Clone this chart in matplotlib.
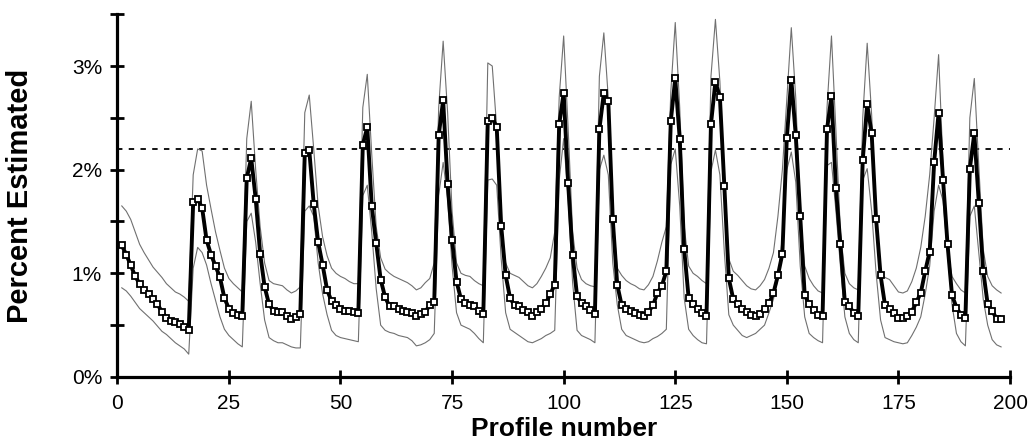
import numpy as np
import matplotlib
matplotlib.use("Agg")
from matplotlib import pyplot as plt

# central estimate (%), one value per profile
estimated = [
    1.27, 1.18, 1.08, 0.97, 0.90, 0.84, 0.80, 0.75, 0.70, 0.63, 0.57, 0.54, 0.53, 0.51, 0.48, 0.45,
    1.69, 1.72, 1.63, 1.32, 1.18, 1.07, 0.96, 0.76, 0.66, 0.62, 0.60, 0.59,
    1.92, 2.11, 1.72, 1.19, 0.87, 0.70, 0.64, 0.63, 0.63, 0.585, 0.56, 0.58, 0.61,
    2.16, 2.19, 1.67, 1.30, 1.08, 0.84, 0.73, 0.69, 0.66, 0.64, 0.64, 0.63, 0.62,
    2.24, 2.41, 1.65, 1.29, 0.94, 0.77, 0.68, 0.68, 0.66, 0.64, 0.63, 0.62, 0.585, 0.61, 0.63, 0.69, 0.72,
    2.33, 2.67, 1.86, 1.32, 0.92, 0.75, 0.71, 0.69, 0.68, 0.64, 0.61,
    2.47, 2.50, 2.41, 1.46, 0.98, 0.76, 0.69, 0.68, 0.65, 0.63, 0.59, 0.63, 0.66, 0.71, 0.80, 0.89,
    2.44, 2.74, 1.87, 1.18, 0.78, 0.71, 0.68, 0.65, 0.61,
    2.39, 2.74, 2.66, 1.52, 0.89, 0.69, 0.66, 0.64, 0.62, 0.60, 0.59, 0.63, 0.69, 0.81, 0.88, 1.02,
    2.47, 2.88, 2.30, 1.23, 0.76, 0.70, 0.66, 0.62, 0.59,
    2.44, 2.85, 2.70, 1.84, 0.95, 0.75, 0.70, 0.66, 0.63, 0.60, 0.59, 0.61, 0.66, 0.71, 0.81, 0.98, 1.19,
    2.31, 2.87, 2.33, 1.55, 0.79, 0.70, 0.65, 0.60, 0.585,
    2.39, 2.71, 1.82, 1.28, 0.72, 0.68, 0.62, 0.585,
    2.09, 2.63, 2.35, 1.52, 0.98, 0.69, 0.66, 0.62, 0.57, 0.57, 0.585, 0.63, 0.72, 0.81, 1.02, 1.21,
    2.07, 2.55, 1.90, 1.28, 0.79, 0.67, 0.60, 0.57,
    2.01, 2.35, 1.68, 1.02, 0.70, 0.64, 0.56, 0.56,
]

upper = [
    1.65, 1.60, 1.52, 1.40, 1.28, 1.20, 1.13, 1.06, 1.01, 0.96, 0.90, 0.86, 0.82, 0.80, 0.77, 0.73,
    1.95, 2.20, 2.18, 1.85, 1.62, 1.40, 1.22, 1.05, 0.95, 0.90, 0.86, 0.82,
    2.30, 2.66, 2.00, 1.45, 1.10, 0.93, 0.90, 0.89, 0.88, 0.84, 0.81, 0.83, 0.87,
    2.55, 2.72, 2.20, 1.65, 1.35, 1.17, 1.05, 1.00, 0.97, 0.95, 0.92, 0.90, 0.90,
    2.60, 2.92, 2.15, 1.45, 1.15, 1.04, 1.00, 0.97, 0.95, 0.93, 0.91, 0.88, 0.84, 0.86, 0.91, 0.95, 1.10,
    2.60, 3.24, 2.55, 1.60, 1.10, 1.00, 0.98, 0.97, 0.93, 0.90, 0.88,
    3.03, 3.00, 2.40, 1.45, 1.10, 1.00, 0.98, 0.96, 0.92, 0.88, 0.86, 0.90, 0.97, 1.05, 1.15, 1.40,
    2.70, 3.29, 2.40, 1.40, 1.05, 0.94, 0.90, 0.88, 0.87,
    2.90, 3.32, 2.69, 1.56, 1.05, 0.98, 0.93, 0.90, 0.88, 0.85, 0.84, 0.89, 0.97, 1.12, 1.30, 1.45,
    2.75, 3.42, 2.60, 1.46, 1.07, 1.00, 0.97, 0.93, 0.90,
    2.90, 3.45, 2.85, 1.85, 1.14, 1.02, 0.98, 0.93, 0.88, 0.85, 0.84, 0.88, 0.94, 1.05, 1.20, 1.55, 2.00,
    2.69, 3.37, 2.69, 1.56, 1.07, 0.95, 0.88, 0.83, 0.81,
    2.60, 3.29, 2.37, 1.40, 1.00, 0.90, 0.86, 0.84,
    2.50, 3.22, 2.53, 1.56, 1.00, 0.96, 0.94, 0.88, 0.82, 0.81, 0.83, 0.92, 1.05, 1.25, 1.55, 1.95,
    2.50, 3.11, 2.04, 1.23, 0.97, 0.90, 0.84, 0.81,
    2.50, 2.88, 2.04, 1.23, 0.97, 0.88, 0.84, 0.81,
]

lower = [
    0.86, 0.83, 0.78, 0.72, 0.66, 0.62, 0.58, 0.54, 0.49, 0.44, 0.41, 0.37, 0.33, 0.30, 0.27, 0.22,
    1.05, 1.25, 1.20, 1.08, 0.90, 0.74, 0.58, 0.46, 0.40, 0.36, 0.32, 0.29,
    1.50, 1.58, 1.30, 0.90, 0.55, 0.38, 0.35, 0.33, 0.33, 0.31, 0.29, 0.28, 0.28,
    1.60, 1.65, 1.55, 1.10, 0.80, 0.60, 0.45, 0.40, 0.38, 0.37, 0.36, 0.35, 0.34,
    1.75, 1.85, 1.40, 0.85, 0.50, 0.45, 0.43, 0.42, 0.40, 0.39, 0.38, 0.35, 0.30, 0.31, 0.33, 0.36, 0.42,
    1.75, 2.07, 1.72, 1.07, 0.62, 0.50, 0.48, 0.46, 0.42, 0.37, 0.33,
    1.90, 1.91, 1.85, 1.14, 0.62, 0.46, 0.43, 0.40, 0.37, 0.34, 0.33, 0.35, 0.37, 0.40, 0.42, 0.45,
    1.90, 2.30, 1.72, 0.91, 0.45, 0.40, 0.38, 0.36, 0.33,
    2.00, 2.14, 1.95, 1.10, 0.70, 0.46, 0.40, 0.38, 0.36, 0.34, 0.33, 0.34, 0.37, 0.39, 0.42, 0.46,
    2.05, 2.20, 1.65, 0.76, 0.46, 0.40, 0.36, 0.33, 0.32,
    1.98, 2.19, 1.95, 1.20, 0.60, 0.50, 0.45, 0.40, 0.38, 0.40, 0.42, 0.46, 0.50, 0.62, 0.75, 0.95, 1.35,
    2.00, 2.17, 1.88, 1.07, 0.58, 0.42, 0.38, 0.35, 0.33,
    2.04, 2.07, 1.60, 1.07, 0.58, 0.42, 0.36, 0.33,
    1.90, 2.01, 1.60, 1.00, 0.55, 0.38, 0.36, 0.34, 0.33, 0.32, 0.33, 0.40, 0.48, 0.58, 0.80, 1.07,
    1.60, 1.85, 1.70, 1.20, 0.70, 0.42, 0.34, 0.30,
    1.55, 1.65, 1.20, 0.75, 0.50, 0.36, 0.31, 0.29,
]

threshold = 2.2
x_ticks = [0, 25, 50, 75, 100, 125, 150, 175, 200]
y_ticks = [0, 0.5, 1, 1.5, 2, 2.5, 3, 3.5]
y_labels = ["0%", "", "1%", "", "2%", "", "3%", ""]

profile = np.arange(1, len(estimated) + 1)

plt.rcParams['font.family'] = ['Liberation Sans', 'DejaVu Sans']

fig = plt.figure(figsize=(10.3, 4.44), dpi=100)
ax = fig.add_axes([0.1139, 0.151, 0.8667, 0.817])

ax.plot(profile, upper, color="#707070", lw=0.8, zorder=2)
ax.plot(profile, lower, color="#707070", lw=0.8, zorder=2)
ax.axhline(threshold, color="black", lw=1.3, ls=(0, (3, 3.5)), zorder=1)
ax.plot(profile, estimated, color="black", lw=2.8, marker="s", ms=5,
        mfc="white", mec="black", mew=1.3, zorder=3)

ax.set_xlim(0, 200)
ax.set_ylim(0, 3.5)
ax.set_xticks(x_ticks)
ax.set_yticks(y_ticks)
ax.set_yticklabels(y_labels)

for side in ["top", "right"]:
    ax.spines[side].set_visible(False)
for side in ["left", "bottom"]:
    ax.spines[side].set_linewidth(2.3)

ax.tick_params(axis="both", direction="inout", length=10, width=2, labelsize=15)
ax.tick_params(axis="y", pad=6)
ax.tick_params(axis="x", pad=7)

ax.set_xlabel("Profile number", fontsize=19, fontweight="bold", labelpad=3)
ax.set_ylabel("Percent Estimated", fontsize=21, fontweight="bold", labelpad=27)

fig.savefig("out.png", dpi=100)
